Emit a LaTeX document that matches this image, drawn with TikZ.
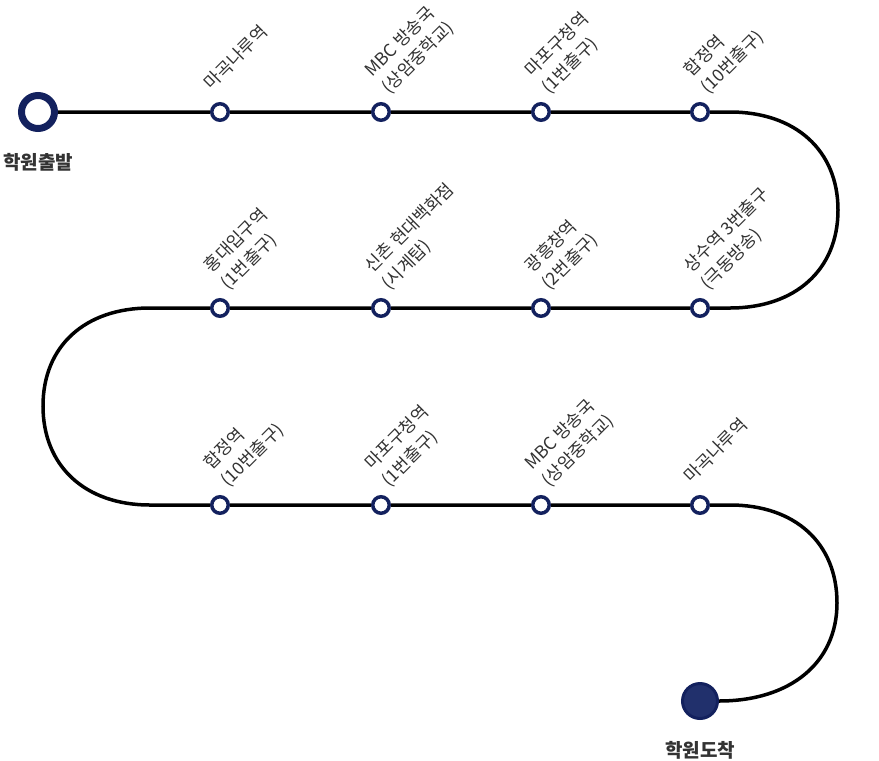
\documentclass[tikz,border=0pt]{standalone}
\usepackage{fontspec}
\setmainfont{Noto Sans CJK KR}
\definecolor{navy}{RGB}{19,33,94}
\definecolor{navyfill}{RGB}{33,48,108}
\definecolor{txt}{RGB}{51,51,51}

\begin{document}
\begin{tikzpicture}[x=1pt, y=-1pt,
  track/.style={line width=3.5pt, black},
  stop/.style={circle, draw=navy, line width=3.5pt, fill=white, minimum size=16.5pt, inner sep=0pt},
  lblone/.style={rotate=45, anchor=west, inner sep=0pt, text=txt, font=\fontsize{17.5}{24}\selectfont},
  lbltwo/.style={lblone, align=left},
  endname/.style={text=txt, font=\fontsize{19}{22}\selectfont\bfseries}]

  \useasboundingbox (0, 0) rectangle (879, 761);

  % stations
  \node [circle, draw=navy, line width=7pt, fill=white, minimum size=33pt, inner sep=0pt] (start) at (38, 112) {};
  \node [stop] (a1) at (220, 112) {};
  \node [stop] (a2) at (381, 112) {};
  \node [stop] (a3) at (541, 112) {};
  \node [stop] (a4) at (700, 112) {};

  \node [stop] (b1) at (700, 308) {};
  \node [stop] (b2) at (541, 308) {};
  \node [stop] (b3) at (381, 308) {};
  \node [stop] (b4) at (220, 308) {};

  \node [stop] (c1) at (220, 505) {};
  \node [stop] (c2) at (381, 505) {};
  \node [stop] (c3) at (541, 505) {};
  \node [stop] (c4) at (700, 505) {};

  \node [circle, draw=navy, fill=navyfill, line width=3pt, minimum size=35pt, inner sep=0pt] (finish) at (700, 701) {};

  % track
  \coordinate (r1) at (730, 112);
  \coordinate (r2) at (730, 308);
  \coordinate (l1) at (150, 308);
  \coordinate (l2) at (150, 505);
  \coordinate (r3) at (730, 505);

  \draw[track] (start) -- (a1) -- (a2) -- (a3) -- (a4) -- (r1)
    .. controls (795, 112) and (838, 150) .. (838, 210)
    .. controls (838, 270) and (795, 308) .. (r2) -- (b1);
  \draw[track] (b1) -- (b2) -- (b3) -- (b4) -- (l1)
    .. controls (85, 308) and (43, 346) .. (43, 406)
    .. controls (43, 466) and (85, 505) .. (l2) -- (c1);
  \draw[track] (c1) -- (c2) -- (c3) -- (c4) -- (r3)
    .. controls (795, 505) and (837, 543) .. (837, 603)
    .. controls (837, 663) and (790, 701) .. (finish);

  % labels
  \node [endname] (startname) at (38, 162) {학원출발};
  \node [endname] (finishname) at (700, 750) {학원도착};

  \node [lblone] (la1) at ([shift={(-13, -26)}]a1) {마곡나루역};
  \node [lbltwo] (la2) at ([shift={(-4, -30)}]a2) {MBC 방송국\\(상암중학교)};
  \node [lbltwo] (la3) at ([shift={(-4, -30)}]a3) {마포구청역\\(1번출구)};
  \node [lbltwo] (la4) at ([shift={(-4, -30)}]a4) {합정역\\(10번출구)};

  \node [lbltwo] (lb1) at ([shift={(-4, -30)}]b1) {상수역 3번출구\\(극동방송)};
  \node [lbltwo] (lb2) at ([shift={(-4, -30)}]b2) {광흥창역\\(2번출구)};
  \node [lbltwo] (lb3) at ([shift={(-4, -30)}]b3) {신촌 현대백화점\\(시계탑)};
  \node [lbltwo] (lb4) at ([shift={(-4, -30)}]b4) {홍대입구역\\(1번출구)};

  \node [lbltwo] (lc1) at ([shift={(-4, -30)}]c1) {합정역\\(10번출구)};
  \node [lbltwo] (lc2) at ([shift={(-4, -30)}]c2) {마포구청역\\(1번출구)};
  \node [lbltwo] (lc3) at ([shift={(-4, -30)}]c3) {MBC 방송국\\(상암중학교)};
  \node [lblone] (lc4) at ([shift={(-13, -26)}]c4) {마곡나루역};

\end{tikzpicture}
\end{document}
